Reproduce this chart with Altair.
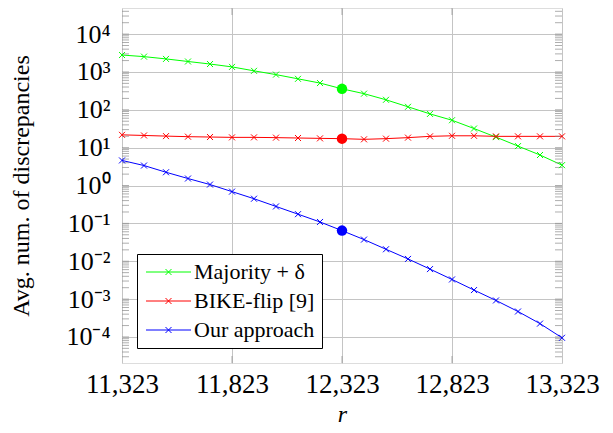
import altair as alt
import pandas as pd
import math

# ---------------- data ----------------
r_values = [11323, 11423, 11523, 11623, 11723, 11823, 11923, 12023, 12123, 12223,
            12323, 12423, 12523, 12623, 12723, 12823, 12923, 13023, 13123, 13223, 13323]
majority = [2800, 2540, 2210, 1890, 1620, 1360, 1070, 850, 658, 509,
            358, 267, 184, 120, 78, 53, 32, 19, 11, 6.4, 3.45]
bike_flip = [21.8, 21.0, 20.2, 19.5, 19.1, 18.7, 18.7, 18.4, 18.0, 17.6,
             17.3, 16.6, 17.3, 18.4, 19.9, 20.6, 20.6, 19.9, 19.9, 19.9, 19.9]
ours = [4.6, 3.37, 2.24, 1.53, 1.06, 0.69, 0.448, 0.28, 0.175, 0.109,
        0.0644, 0.0373, 0.0207, 0.0115, 0.0062, 0.0033, 0.00173, 0.00092, 0.00047, 0.000225, 0.000095]

series_names = ["Majority + δ", "BIKE-flip [9]", "Our approach"]
series_colors = ["#00ff00", "#ff0000", "#0000ff"]
highlight_r = 12323

x_ticks = [11323, 11823, 12323, 12823, 13323]
x_inner_ticks = [11823, 12323, 12823]
y_decades = [-4, -3, -2, -1, 0, 1, 2, 3, 4]
y_tick_labels = ["10⁻⁴", "10⁻³", "10⁻²", "10⁻¹", "10⁰", "10¹", "10²", "10³", "10⁴"]
y_min, y_max = 2.05e-5, 4.89e4

# ---------------- tables ----------------
rows = []
for name, vals in zip(series_names, [majority, bike_flip, ours]):
    for r, v in zip(r_values, vals):
        rows.append({"r": r, "value": v, "series": name})
df = pd.DataFrame(rows)
dots = df[df["r"] == highlight_r]

minor_vals = [m * 10.0 ** k for k in range(-5, 5) for m in range(1, 10)]
minor_vals = [v for v in minor_vals if y_min <= v <= y_max]
left_ticks = pd.DataFrame({"r": [x_ticks[0]] * len(minor_vals), "value": minor_vals})
right_ticks = pd.DataFrame({"r": [x_ticks[-1]] * len(minor_vals), "value": minor_vals})
top_ticks = pd.DataFrame({"r": x_inner_ticks, "value": [y_max] * len(x_inner_ticks)})
bottom_ticks = pd.DataFrame({"r": x_inner_ticks, "value": [y_min] * len(x_inner_ticks)})

label_expr = " : ".join(
    f"round(log(datum.value)/LN10) == {e} ? '{lab}'" for e, lab in zip(y_decades, y_tick_labels)
) + " : ''"

FONT = "Liberation Serif"

x_scale = alt.Scale(domain=[x_ticks[0], x_ticks[-1]], nice=False, zero=False)
y_scale = alt.Scale(type="log", domain=[y_min, y_max], nice=False)

x_enc = alt.X("r:Q", scale=x_scale,
              axis=alt.Axis(values=x_ticks, format=",d", title="r", titleFontStyle="italic",
                            titleFont=FONT, titleFontSize=24, titleFontWeight="normal",
                            labelFont=FONT, labelFontSize=27, labelPadding=8,
                            labelFlush=False, labelOverlap=False,
                            titlePadding=5, ticks=False, domain=False,
                            grid=True, gridColor="#c4c4c4", gridWidth=1,
                            labelColor="black", titleColor="black"))
y_enc = alt.Y("value:Q", scale=y_scale,
              axis=alt.Axis(values=[10.0 ** e for e in y_decades], labelExpr=label_expr,
                            title="Avg. num. of discrepancies",
                            titleFont=FONT, titleFontSize=24, titleFontWeight="normal",
                            labelFont=FONT, labelFontSize=26, labelPadding=12,
                            labelOverlap=False, labelFlush=False,
                            titlePadding=32, ticks=False, domain=False,
                            grid=True, gridColor="#c4c4c4", gridWidth=1,
                            labelColor="black", titleColor="black"))

legend_path = "M-1.8,0L7.2,0M2.1,-0.6L3.3,0.6M2.1,0.6L3.3,-0.6"
color_enc = alt.Color("series:N",
                      scale=alt.Scale(domain=series_names, range=series_colors),
                      sort=series_names,
                      legend=alt.Legend(title=None, orient="bottom-left", offset=15,
                                        symbolType=legend_path, symbolSize=100,
                                        symbolStrokeWidth=1, symbolOpacity=1,
                                        labelFont=FONT, labelFontSize=22, labelColor="black",
                                        labelOffset=28, rowPadding=7, padding=7,
                                        fillColor="white", strokeColor="black",
                                        labelLimit=0))

tick_color = "#8c8c8c"
t_left = alt.Chart(left_ticks).mark_tick(orient="horizontal", size=7, thickness=1,
                                         color=tick_color, xOffset=3.5).encode(x="r:Q", y="value:Q")
t_right = alt.Chart(right_ticks).mark_tick(orient="horizontal", size=7, thickness=1,
                                           color=tick_color, xOffset=-3.5).encode(x="r:Q", y="value:Q")
t_top = alt.Chart(top_ticks).mark_tick(orient="vertical", size=7, thickness=1,
                                       color=tick_color, yOffset=3.5).encode(x="r:Q", y="value:Q")
t_bottom = alt.Chart(bottom_ticks).mark_tick(orient="vertical", size=7, thickness=1,
                                             color=tick_color, yOffset=-3.5).encode(x="r:Q", y="value:Q")

lines = alt.Chart(df).mark_line(strokeWidth=1).encode(x=x_enc, y=y_enc, color=color_enc,
                                                     order="r:Q")
points = alt.Chart(df).mark_point(shape="M-1,-1L1,1M-1,1L1,-1", size=36, filled=False,
                                  strokeWidth=1, opacity=1).encode(x="r:Q", y="value:Q",
                                                                   color=color_enc)
dot_layer = alt.Chart(dots).mark_circle(size=110, opacity=1).encode(x="r:Q", y="value:Q",
                                                                     color=color_enc)

chart = alt.layer(lines, t_left, t_right, t_top, t_bottom, points, dot_layer).properties(
    width=440, height=355,
    autosize=alt.AutoSizeParams(type="none"),
    padding={"left": 114, "top": 0, "right": 43, "bottom": 62},
).configure_view(stroke="black", strokeWidth=1).configure(background="white")

chart.save("out.html", embed_options={"renderer": "svg", "actions": False})
